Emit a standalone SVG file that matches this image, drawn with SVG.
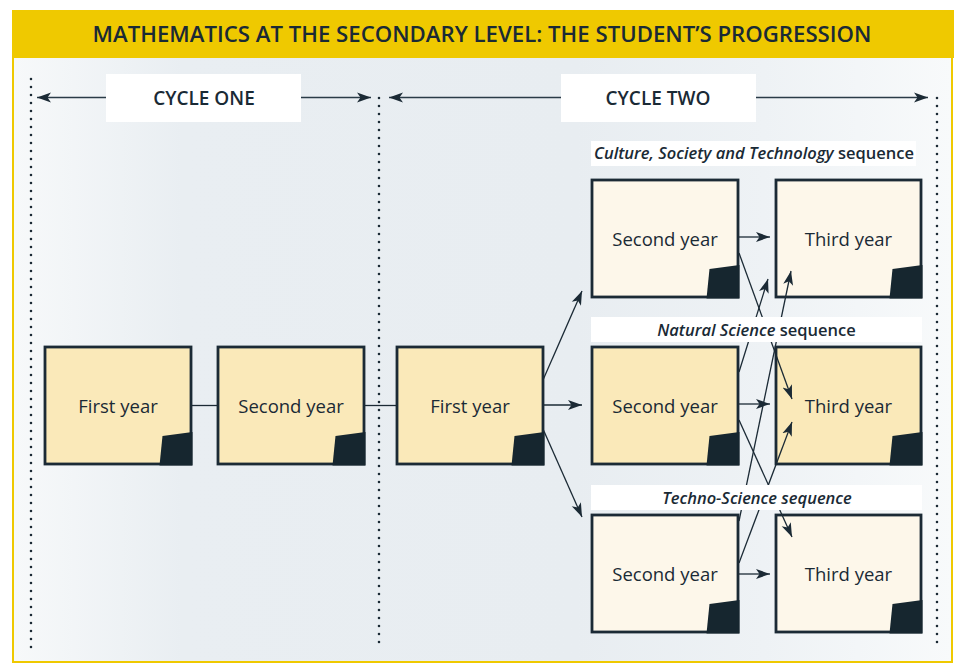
<svg xmlns="http://www.w3.org/2000/svg" xmlns:xlink="http://www.w3.org/1999/xlink" width="956" height="664" viewBox="0 0 956 664">
  <defs>
    <linearGradient id="panelGrad" x1="0" y1="0" x2="1" y2="0">
      <stop offset="0" stop-color="#f7f9fa"/>
      <stop offset="0.18" stop-color="#e9eef2"/>
      <stop offset="0.6" stop-color="#e8edf1"/>
      <stop offset="0.8" stop-color="#eef2f5"/>
      <stop offset="1" stop-color="#f8fafb"/>
    </linearGradient>
    <marker id="arrow" markerUnits="userSpaceOnUse" markerWidth="16" markerHeight="12" refX="14" refY="5" orient="auto" viewBox="0 0 16 10">
      <path d="M0,0 L14,5 L0,10 L3.5,5 Z" fill="#1b2a35"/>
    </marker>
    <path id="fold" d="M117.5,89 L147.5,85 L147.5,118.5 L114.5,118.5 Z"/>
    <style>
      .title { font-family: "Open Sans", "Noto Sans", sans-serif; font-size: 22.2px; font-weight: 600; fill: #1a2a35; }
      .cycle { font-family: "Open Sans", "Noto Sans", sans-serif; font-size: 19px; font-weight: 600; fill: #1a2a35; }
      .seq { font-family: "Open Sans", "Noto Sans", sans-serif; font-size: 16.5px; font-weight: 600; fill: #1a2a35; }
      .seq .it { font-style: italic; }
      .lbl { font-family: "Open Sans", "Noto Sans", sans-serif; font-size: 18.5px; fill: #1a2a35; text-anchor: middle; }
      .box { stroke: #1b2a35; stroke-width: 2.8; }
      .deep { fill: #fae9b9; }
      .pale { fill: #fdf7ea; }
      .fold { fill: #16262f; }
      .dots { fill: none; stroke: #1b2a35; stroke-width: 2.6; stroke-linecap: round; stroke-dasharray: 0 8; }
      .link { fill: none; stroke: #1b2a35; stroke-width: 1.3; }
      .span { fill: none; stroke: #2a3b47; stroke-width: 1.6; }
      .band { fill: #ffffff; }
    </style>
  </defs>

  <!-- frame and title band -->
  <rect x="13" y="57" width="939" height="605" fill="url(#panelGrad)" stroke="#efc900" stroke-width="2"/>
  <rect x="12" y="10" width="942" height="48" fill="#efc900"/>
  <text class="title" x="482" y="42" text-anchor="middle">MATHEMATICS AT THE SECONDARY LEVEL: THE STUDENT’S PROGRESSION</text>

  <!-- cycle boundaries -->
  <g id="boundaries">
    <path class="dots" d="M31,79 V650"/>
    <path class="dots" d="M379,98 V650"/>
    <path class="dots" d="M937,98 V650"/>
  </g>

  <!-- cycle spans -->
  <g id="cycle-one">
    <path class="span" d="M106,97.5 H37" marker-end="url(#arrow)"/>
    <path class="span" d="M301,97.5 H371" marker-end="url(#arrow)"/>
    <rect class="band" x="106" y="74" width="195" height="48"/>
    <text class="cycle" x="204" y="105" text-anchor="middle">CYCLE ONE</text>
  </g>
  <g id="cycle-two">
    <path class="span" d="M561,97.5 H389" marker-end="url(#arrow)"/>
    <path class="span" d="M756,97.5 H928" marker-end="url(#arrow)"/>
    <rect class="band" x="561" y="74" width="195" height="48"/>
    <text class="cycle" x="658" y="105" text-anchor="middle">CYCLE TWO</text>
  </g>

  <!-- year nodes -->
  <g id="c1-year1" transform="translate(45,347)">
    <rect class="box deep" width="146" height="117"/>
    <use xlink:href="#fold" class="fold"/>
    <text class="lbl" x="73" y="65.5">First year</text>
  </g>
  <g id="c1-year2" transform="translate(218,347)">
    <rect class="box deep" width="146" height="117"/>
    <use xlink:href="#fold" class="fold"/>
    <text class="lbl" x="73" y="65.5">Second year</text>
  </g>
  <g id="c2-year1" transform="translate(397,347)">
    <rect class="box deep" width="146" height="117"/>
    <use xlink:href="#fold" class="fold"/>
    <text class="lbl" x="73" y="65.5">First year</text>
  </g>
  <g id="cst-year2" transform="translate(592,180)">
    <rect class="box pale" width="146" height="117"/>
    <use xlink:href="#fold" class="fold"/>
    <text class="lbl" x="73" y="65.5">Second year</text>
  </g>
  <g id="cst-year3" transform="translate(776,180)">
    <rect class="box pale" width="145" height="117"/>
    <use xlink:href="#fold" class="fold" transform="translate(-1,0)"/>
    <text class="lbl" x="72.5" y="65.5">Third year</text>
  </g>
  <g id="ns-year2" transform="translate(592,347)">
    <rect class="box deep" width="146" height="117"/>
    <use xlink:href="#fold" class="fold"/>
    <text class="lbl" x="73" y="65.5">Second year</text>
  </g>
  <g id="ns-year3" transform="translate(776,347)">
    <rect class="box deep" width="145" height="117"/>
    <use xlink:href="#fold" class="fold" transform="translate(-1,0)"/>
    <text class="lbl" x="72.5" y="65.5">Third year</text>
  </g>
  <g id="ts-year2" transform="translate(592,515)">
    <rect class="box pale" width="146" height="117"/>
    <use xlink:href="#fold" class="fold"/>
    <text class="lbl" x="73" y="65.5">Second year</text>
  </g>
  <g id="ts-year3" transform="translate(776,515)">
    <rect class="box pale" width="145" height="117"/>
    <use xlink:href="#fold" class="fold" transform="translate(-1,0)"/>
    <text class="lbl" x="72.5" y="65.5">Third year</text>
  </g>

  <!-- connectors -->
  <g id="connectors">
    <path class="link" d="M192,405.5 H218"/>
    <path class="link" d="M365,405.5 H396"/>
    <path class="link" d="M544,405 H582" marker-end="url(#arrow)"/>
    <path class="link" d="M543,380 L582,291" marker-end="url(#arrow)"/>
    <path class="link" d="M543,429 L582,517" marker-end="url(#arrow)"/>
    <path class="link" d="M739,237 H770" marker-end="url(#arrow)"/>
    <path class="link" d="M739,404 H770" marker-end="url(#arrow)"/>
    <path class="link" d="M739,574 H770" marker-end="url(#arrow)"/>
    <path class="link" d="M739,253 L792,399" marker-end="url(#arrow)"/>
    <path class="link" d="M739,372 L768,279" marker-end="url(#arrow)"/>
    <path class="link" d="M739,420 L792,537" marker-end="url(#arrow)"/>
    <path class="link" d="M739,521 L791,271" marker-end="url(#arrow)"/>
    <path class="link" d="M739,563 L792,422" marker-end="url(#arrow)"/>
  </g>

  <!-- sequence captions -->
  <g id="seq-cst">
    <rect class="band" x="591" y="141" width="325" height="25"/>
    <text class="seq" x="754" y="159" text-anchor="middle"><tspan class="it">Culture, Society and Technology</tspan> sequence</text>
  </g>
  <g id="seq-ns">
    <rect class="band" x="591" y="317" width="331" height="25"/>
    <text class="seq" x="756.5" y="335.5" text-anchor="middle"><tspan class="it">Natural Science</tspan> sequence</text>
  </g>
  <g id="seq-ts">
    <rect class="band" x="591" y="485" width="331" height="25"/>
    <text class="seq" x="757" y="503.5" text-anchor="middle"><tspan class="it">Techno-Science sequence</tspan></text>
  </g>
</svg>
